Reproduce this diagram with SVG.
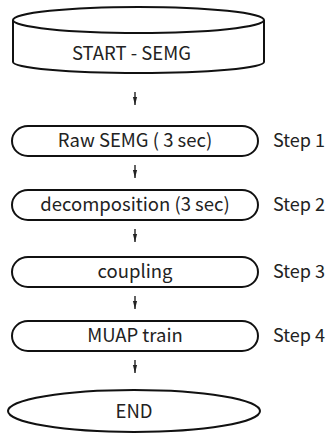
<svg xmlns="http://www.w3.org/2000/svg" width="331" height="448" viewBox="0 0 331 448">
<defs>
<marker id="ah" viewBox="0 0 8 6" refX="8" refY="3" markerWidth="8" markerHeight="6" markerUnits="userSpaceOnUse" orient="auto">
<path d="M0,0.9 L8,3 L0,5.1 Z" fill="#222"/>
</marker>
<style>
.shape{fill:#fff;stroke:#111;stroke-width:2}
.lbl{font-family:"Noto Sans CJK JP","Liberation Sans",sans-serif;font-size:18.5px;fill:#222;text-anchor:middle}
.step{font-family:"Noto Sans CJK JP","Liberation Sans",sans-serif;font-size:18px;fill:#222}
.conn{stroke:#222;stroke-width:1.4;fill:none}
</style>
</defs>
<rect width="331" height="448" fill="#fff"/>
<g id="start">
<path class="shape" d="M13,20 L13,62 A125.5,11 0 0 0 264,62 L264,20"/>
<ellipse class="shape" cx="138.5" cy="20" rx="125.5" ry="13"/>
<text class="lbl" x="131.5" y="60">START - SEMG</text>
</g>
<g id="step1">
<rect class="shape" x="12" y="126" width="246" height="30" rx="16" ry="15"/>
<text class="lbl" x="135" y="147">Raw SEMG ( 3 sec)</text>
<text class="step" x="273" y="147">Step 1</text>
</g>
<g id="step2">
<rect class="shape" x="12" y="190" width="246" height="30" rx="16" ry="15"/>
<text class="lbl" x="135" y="211">decomposition (3 sec)</text>
<text class="step" x="273" y="211">Step 2</text>
</g>
<g id="step3">
<rect class="shape" x="12" y="257" width="246" height="30" rx="16" ry="15"/>
<text class="lbl" x="135" y="278">coupling</text>
<text class="step" x="273" y="278">Step 3</text>
</g>
<g id="step4">
<rect class="shape" x="12" y="321" width="246" height="30" rx="16" ry="15"/>
<text class="lbl" x="135" y="342">MUAP train</text>
<text class="step" x="273" y="342">Step 4</text>
</g>
<g id="end">
<ellipse class="shape" cx="134" cy="411" rx="126" ry="21"/>
<text class="lbl" x="134" y="418">END</text>
</g>
<g id="connectors">
<line class="conn" x1="135" y1="92" x2="135" y2="105" marker-end="url(#ah)"/>
<line class="conn" x1="135" y1="165" x2="135" y2="178" marker-end="url(#ah)"/>
<line class="conn" x1="135" y1="229" x2="135" y2="242" marker-end="url(#ah)"/>
<line class="conn" x1="135" y1="296" x2="135" y2="309" marker-end="url(#ah)"/>
<line class="conn" x1="135" y1="360" x2="135" y2="373" marker-end="url(#ah)"/>
</g>
</svg>
